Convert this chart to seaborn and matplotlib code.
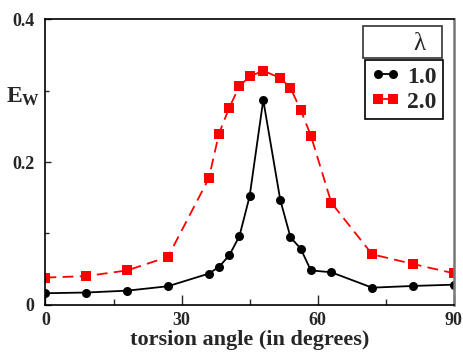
import matplotlib
matplotlib.use("Agg")
import matplotlib.pyplot as plt
import seaborn as sns
import numpy as np
import pandas as pd
from matplotlib.patches import Rectangle
from matplotlib.ticker import FixedLocator, FixedFormatter, MultipleLocator

# Data
angle = [0, 9, 18, 27, 36, 38.25, 40.5, 42.75, 45, 48, 51.75, 54, 56.25, 58.5, 63, 72, 81, 90]
ew_1 = [0.016, 0.017, 0.0196, 0.0258, 0.0435, 0.053, 0.069, 0.096, 0.152, 0.287,
        0.147, 0.0945, 0.0785, 0.048, 0.0454, 0.0238, 0.0262, 0.028]
ew_2 = [0.038, 0.040, 0.048, 0.067, 0.177, 0.240, 0.276, 0.3065, 0.320, 0.328,
        0.318, 0.304, 0.273, 0.237, 0.143, 0.0706, 0.057, 0.044]
lambda_labels = ["1.0", "2.0"]
x_ticks = [0, 30, 60, 90]
y_ticks = [0, 0.2, 0.4]
y_ticklabels = ["0", "0.2", "0.4"]

sns.set_style("ticks")
plt.rcParams['font.family'] = ['Liberation Serif', 'DejaVu Serif']
plt.rcParams['mathtext.fontset'] = 'custom'
plt.rcParams['mathtext.rm'] = 'Liberation Serif'
plt.rcParams['mathtext.bf'] = 'Liberation Serif:bold'

fig = plt.figure(figsize=(4.64, 3.53), dpi=100)
ax = fig.add_axes([0.098, 0.137, 0.880, 0.808])

sns.lineplot(x=angle, y=ew_1, ax=ax, color="black", marker="o", markersize=6.5,
             markeredgewidth=0, linewidth=1.3, label=lambda_labels[0])
sns.lineplot(x=angle, y=ew_2, ax=ax, color="red", marker="s", markersize=6.5,
             markeredgewidth=0, linewidth=1.3, linestyle=(0, (6, 3.5)), label=lambda_labels[1])

ax.set_xlim(0, 90)
ax.set_ylim(0, 0.4)
ax.xaxis.set_major_locator(FixedLocator(x_ticks))
ax.xaxis.set_minor_locator(MultipleLocator(15))
ax.yaxis.set_major_locator(FixedLocator(y_ticks))
ax.yaxis.set_major_formatter(FixedFormatter(y_ticklabels))
ax.yaxis.set_minor_locator(MultipleLocator(0.1))
ax.tick_params(axis='x', which='major', direction='in', length=7, width=1, labelsize=13, pad=5)
ax.tick_params(axis='x', which='minor', direction='in', length=4, width=1)
ax.tick_params(axis='y', which='major', direction='in', length=4, width=1, labelsize=13, pad=8)
ax.tick_params(axis='y', which='minor', direction='in', length=3, width=1)
for lab in ax.get_xticklabels() + ax.get_yticklabels():
    lab.set_fontweight('bold')

for s in ['left', 'bottom', 'top']:
    ax.spines[s].set_color('black')
    ax.spines[s].set_linewidth(1.2)
ax.spines['right'].set_color('#777777')
ax.spines['right'].set_linewidth(1.8)

ax.set_xlabel("torsion angle (in degrees)", fontsize=16, fontweight='bold', labelpad=1)
ax.set_ylabel(r"$\mathbf{E_W}$", fontsize=17, rotation=0, labelpad=8)
ax.yaxis.set_label_coords(-0.055, 0.69)

leg = ax.legend(loc='upper right', bbox_to_anchor=(0.973, 0.857), numpoints=2,
                handlelength=1.25, handletextpad=0.3, borderpad=0.25, labelspacing=0.15,
                borderaxespad=0,
                prop={'family': 'Liberation Serif', 'weight': 'bold', 'size': 17},
                fancybox=False, framealpha=1, edgecolor='black')
leg.get_frame().set_linewidth(1.2)

rect = Rectangle((0.777, 0.864), 0.194, 0.112, transform=ax.transAxes, fill=False,
                 edgecolor='#333333', linewidth=1.2, clip_on=False)
ax.add_patch(rect)
ax.text(0.915, 0.915, "λ", transform=ax.transAxes, fontsize=18, ha='center', va='center',
        family=['Liberation Serif', 'DejaVu Serif'])

fig.savefig("out.png", dpi=100)
